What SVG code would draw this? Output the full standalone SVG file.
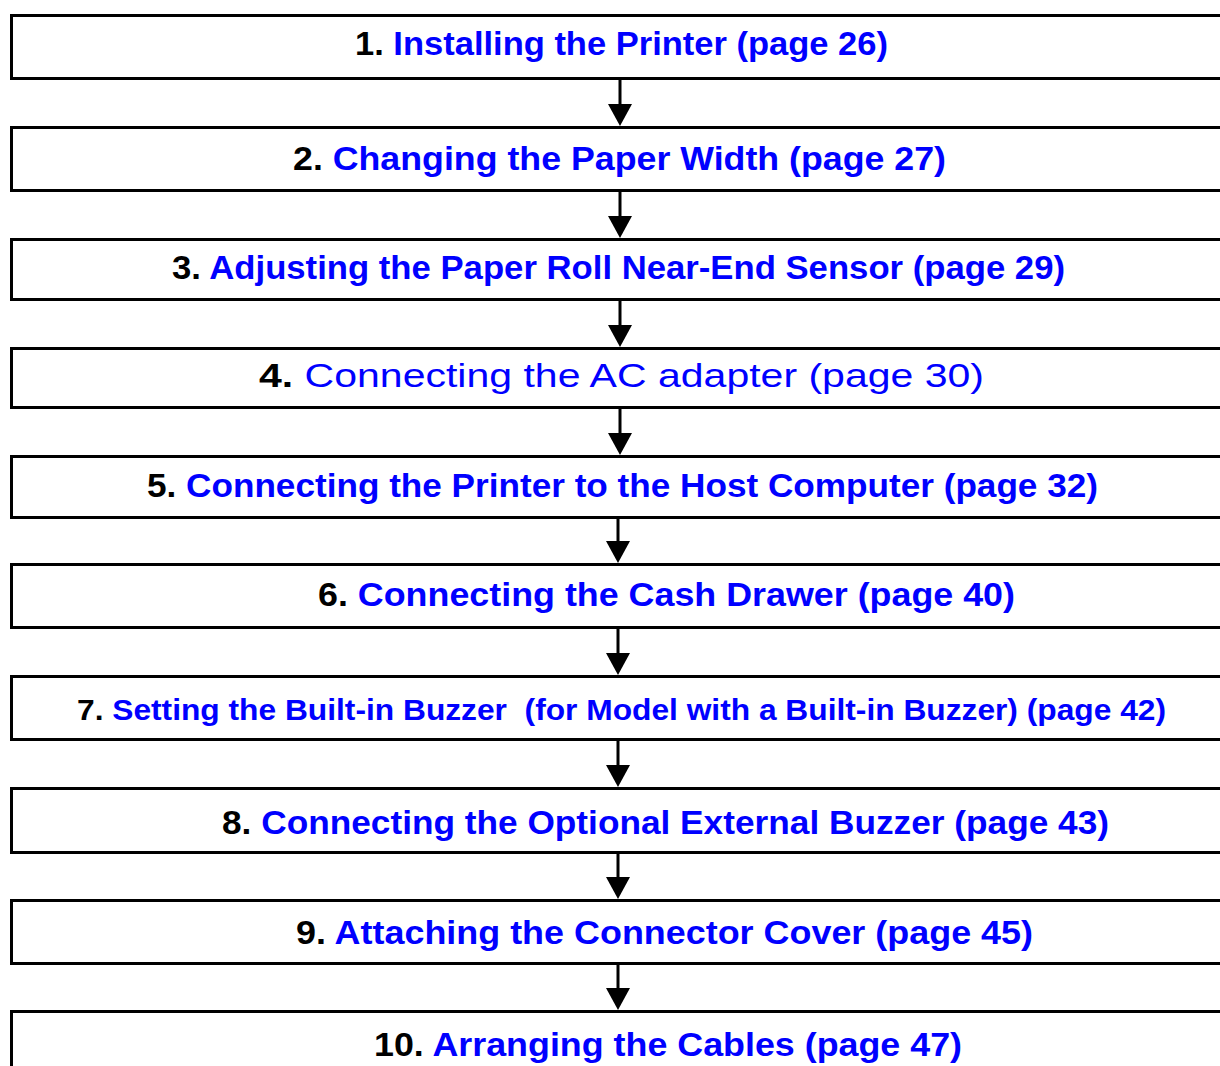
<svg xmlns="http://www.w3.org/2000/svg" width="1220" height="1066" viewBox="0 0 1220 1066">
<defs>
<style>
.box{fill:#fff;stroke:#000;stroke-width:3}
.t{font-family:"Liberation Sans",Arial,sans-serif;font-size:33px;font-weight:bold}
.n{fill:#000}
.b{fill:#0000ff}
.r{font-weight:normal}
.arr{stroke:#000;stroke-width:3;fill:none}
.head{fill:#000}
</style>
</defs>
<rect width="1220" height="1066" fill="#fff"/>
<g id="node1"><rect class="box" x="11.5" y="15.5" width="1230" height="63"/><text class="t" x="355" y="55" textLength="533" lengthAdjust="spacingAndGlyphs"><tspan class="n">1. </tspan><tspan class="b">Installing the Printer (page 26)</tspan></text></g>
<g id="node2"><rect class="box" x="11.5" y="127.5" width="1230" height="63"/><text class="t" x="293" y="170" textLength="653" lengthAdjust="spacingAndGlyphs"><tspan class="n">2. </tspan><tspan class="b">Changing the Paper Width (page 27)</tspan></text></g>
<g id="node3"><rect class="box" x="11.5" y="239.5" width="1230" height="60"/><text class="t" x="172" y="279" textLength="893" lengthAdjust="spacingAndGlyphs"><tspan class="n">3. </tspan><tspan class="b">Adjusting the Paper Roll Near-End Sensor (page 29)</tspan></text></g>
<g id="node4"><rect class="box" x="11.5" y="348.5" width="1230" height="59"/><text class="t" x="259" y="387" textLength="725" lengthAdjust="spacingAndGlyphs"><tspan class="n">4. </tspan><tspan class="b r">Connecting the AC adapter (page 30)</tspan></text></g>
<g id="node5"><rect class="box" x="11.5" y="456.5" width="1230" height="61"/><text class="t" x="147" y="497" textLength="951" lengthAdjust="spacingAndGlyphs"><tspan class="n">5. </tspan><tspan class="b">Connecting the Printer to the Host Computer (page 32)</tspan></text></g>
<g id="node6"><rect class="box" x="11.5" y="564.5" width="1230" height="63"/><text class="t" x="318" y="606" textLength="697" lengthAdjust="spacingAndGlyphs"><tspan class="n">6. </tspan><tspan class="b">Connecting the Cash Drawer (page 40)</tspan></text></g>
<g id="node7"><rect class="box" x="11.5" y="676.5" width="1230" height="63"/><text class="t" x="77" y="720" style="font-size:30px;white-space:pre" xml:space="preserve" textLength="1089" lengthAdjust="spacingAndGlyphs"><tspan class="n">7. </tspan><tspan class="b">Setting the Built-in Buzzer  (for Model with a Built-in Buzzer) (page 42)</tspan></text></g>
<g id="node8"><rect class="box" x="11.5" y="788.5" width="1230" height="64"/><text class="t" x="222" y="834" textLength="887" lengthAdjust="spacingAndGlyphs"><tspan class="n">8. </tspan><tspan class="b">Connecting the Optional External Buzzer (page 43)</tspan></text></g>
<g id="node9"><rect class="box" x="11.5" y="900.5" width="1230" height="63"/><text class="t" x="296" y="944" textLength="737" lengthAdjust="spacingAndGlyphs"><tspan class="n">9. </tspan><tspan class="b">Attaching the Connector Cover (page 45)</tspan></text></g>
<g id="node10"><rect class="box" x="11.5" y="1011.5" width="1230" height="80"/><text class="t" x="374" y="1056" textLength="588" lengthAdjust="spacingAndGlyphs"><tspan class="n">10. </tspan><tspan class="b">Arranging the Cables (page 47)</tspan></text></g>
<g id="connectors">
<line class="arr" x1="620" y1="80" x2="620" y2="104"/><polygon class="head" points="608,104 632,104 620,126"/>
<line class="arr" x1="620" y1="192" x2="620" y2="216"/><polygon class="head" points="608,216 632,216 620,238"/>
<line class="arr" x1="620" y1="301" x2="620" y2="325"/><polygon class="head" points="608,325 632,325 620,347"/>
<line class="arr" x1="620" y1="409" x2="620" y2="433"/><polygon class="head" points="608,433 632,433 620,455"/>
<line class="arr" x1="618" y1="519" x2="618" y2="541"/><polygon class="head" points="606,541 630,541 618,563"/>
<line class="arr" x1="618" y1="629" x2="618" y2="653"/><polygon class="head" points="606,653 630,653 618,675"/>
<line class="arr" x1="618" y1="741" x2="618" y2="765"/><polygon class="head" points="606,765 630,765 618,787"/>
<line class="arr" x1="618" y1="854" x2="618" y2="877"/><polygon class="head" points="606,877 630,877 618,899"/>
<line class="arr" x1="618" y1="965" x2="618" y2="988"/><polygon class="head" points="606,988 630,988 618,1010"/>
</g>
</svg>
